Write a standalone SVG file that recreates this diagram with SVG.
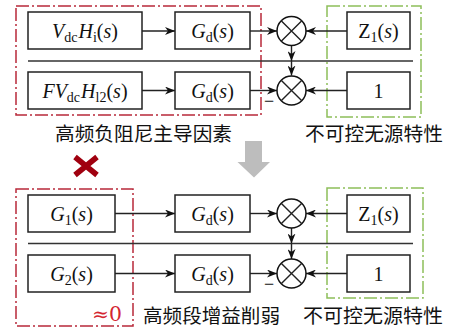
<svg xmlns="http://www.w3.org/2000/svg" width="449" height="331" viewBox="0 0 449 331">
<style>
.box{fill:#fff;stroke:#222;stroke-width:1.5}
.ln{stroke:#222;stroke-width:1.4;fill:none}
.hl{stroke:#333;stroke-width:1.6}
.sj{fill:#fff;stroke:#111;stroke-width:1.5}
.m{font-family:"Liberation Serif",serif;font-size:20px;fill:#111;text-anchor:middle}
.i{font-style:italic}
.sub{font-size:14px}
.cn{font-family:"Noto Sans CJK SC",sans-serif;font-size:19.5px;fill:#111}
.mi{font-family:"Liberation Serif",serif;font-size:18px;fill:#111;text-anchor:middle}
.rb{fill:none;stroke:#b8283a;stroke-width:1.5;stroke-dasharray:13 3 2 3}
.gb{fill:none;stroke:#8dbf5a;stroke-width:1.5;stroke-dasharray:13 3 2 3}
</style>
<defs>
<marker id="ah" viewBox="0 0 10 8" refX="10" refY="4" markerWidth="10" markerHeight="8" markerUnits="userSpaceOnUse" orient="auto">
<path d="M0,0 L10,4 L0,8 L3,4 z" fill="#111"/>
</marker>
</defs>

<!-- frames -->
<rect class="rb" x="16" y="6" width="245" height="109"/>
<rect class="gb" x="327" y="6" width="94" height="111"/>
<rect class="rb" x="16" y="189" width="117" height="137"/>
<rect class="gb" x="327" y="188" width="96" height="110"/>

<!-- connectors -->
<g id="connectors">
<line class="hl" x1="28" y1="61" x2="413" y2="61"/>
<line class="ln" x1="142" y1="31" x2="175" y2="31" marker-end="url(#ah)"/>
<line class="ln" x1="250" y1="31" x2="277" y2="31" marker-end="url(#ah)"/>
<line class="ln" x1="347" y1="31" x2="306" y2="31" marker-end="url(#ah)"/>
<line class="ln" x1="291.5" y1="45" x2="291.5" y2="61" marker-end="url(#ah)"/>
<line class="ln" x1="291.5" y1="61" x2="291.5" y2="75.5" marker-end="url(#ah)"/>
<line class="ln" x1="142" y1="90.5" x2="175" y2="90.5" marker-end="url(#ah)"/>
<line class="ln" x1="250" y1="90.5" x2="277" y2="90.5" marker-end="url(#ah)"/>
<line class="ln" x1="347" y1="90.5" x2="306" y2="90.5" marker-end="url(#ah)"/>

<line class="hl" x1="28" y1="243.5" x2="413" y2="243.5"/>
<line class="ln" x1="115" y1="213.5" x2="175" y2="213.5" marker-end="url(#ah)"/>
<line class="ln" x1="250" y1="213.5" x2="277" y2="213.5" marker-end="url(#ah)"/>
<line class="ln" x1="347" y1="213.5" x2="306" y2="213.5" marker-end="url(#ah)"/>
<line class="ln" x1="291.5" y1="228" x2="291.5" y2="243.5" marker-end="url(#ah)"/>
<line class="ln" x1="291.5" y1="243.5" x2="291.5" y2="259" marker-end="url(#ah)"/>
<line class="ln" x1="115" y1="273.5" x2="175" y2="273.5" marker-end="url(#ah)"/>
<line class="ln" x1="250" y1="273.5" x2="277" y2="273.5" marker-end="url(#ah)"/>
<line class="ln" x1="347" y1="273.5" x2="306" y2="273.5" marker-end="url(#ah)"/>
</g>

<!-- top section -->
<g id="n_vdchi"><rect class="box" x="28" y="12" width="114" height="37"/>
<text class="m" x="85" y="38"><tspan class="i">V</tspan><tspan class="sub" dy="4">dc</tspan><tspan class="i" dy="-4" dx="1">H</tspan><tspan class="sub" dy="4">i</tspan><tspan dy="-4">(</tspan><tspan class="i">s</tspan>)</text></g>
<g id="n_gd1"><rect class="box" x="175" y="12" width="75" height="37"/>
<text class="m" x="212.5" y="38"><tspan class="i">G</tspan><tspan class="sub" dy="4">d</tspan><tspan dy="-4">(</tspan><tspan class="i">s</tspan>)</text></g>
<g id="n_sum1"><circle class="sj" cx="291.5" cy="31" r="14.5"/><path class="ln" d="M281.2,20.7 L301.8,41.3 M301.8,20.7 L281.2,41.3"/></g>
<g id="n_z1a"><rect class="box" x="347" y="12" width="63" height="37"/>
<text class="m" x="378.5" y="38">Z<tspan class="sub" dy="4">1</tspan><tspan dy="-4">(</tspan><tspan class="i">s</tspan>)</text></g>

<g id="n_fvdch"><rect class="box" x="28" y="72" width="114" height="37"/>
<text class="m" x="85" y="97.5"><tspan class="i">FV</tspan><tspan class="sub" dy="4">dc</tspan><tspan class="i" dy="-4" dx="1">H</tspan><tspan class="sub" dy="4">l2</tspan><tspan dy="-4">(</tspan><tspan class="i">s</tspan>)</text></g>
<g id="n_gd2"><rect class="box" x="175" y="72" width="75" height="37"/>
<text class="m" x="212.5" y="97.5"><tspan class="i">G</tspan><tspan class="sub" dy="4">d</tspan><tspan dy="-4">(</tspan><tspan class="i">s</tspan>)</text></g>
<g id="n_sum2"><circle class="sj" cx="291.5" cy="90.5" r="14.5"/><path class="ln" d="M281.2,80.2 L301.8,100.8 M301.8,80.2 L281.2,100.8"/>
<text class="mi" x="269" y="106.5">−</text></g>
<g id="n_one1"><rect class="box" x="347" y="72" width="63" height="37"/>
<text class="m" x="378.5" y="97.5">1</text></g>

<text class="cn" x="55" y="140.5" textLength="177" lengthAdjust="spacingAndGlyphs">高频负阻尼主导因素</text>
<text class="cn" x="305" y="140.5" textLength="138" lengthAdjust="spacingAndGlyphs">不可控无源特性</text>

<!-- transition marks -->
<path d="M75,157 L97,175 M97,157 L75,175" stroke="#a0000f" stroke-width="5.5" fill="none"/>
<path d="M245,141 L262,141 L262,162 L270,162 L254,177.5 L237.5,162 L245,162 Z" fill="#bdbdbd"/>

<!-- bottom section -->
<g id="n_g1"><rect class="box" x="28" y="195" width="87" height="37"/>
<text class="m" x="71.5" y="220.5"><tspan class="i">G</tspan><tspan class="sub" dy="4">1</tspan><tspan dy="-4">(</tspan><tspan class="i">s</tspan>)</text></g>
<g id="n_gd3"><rect class="box" x="175" y="195" width="75" height="37"/>
<text class="m" x="212.5" y="220.5"><tspan class="i">G</tspan><tspan class="sub" dy="4">d</tspan><tspan dy="-4">(</tspan><tspan class="i">s</tspan>)</text></g>
<g id="n_sum3"><circle class="sj" cx="291.5" cy="213.5" r="14.5"/><path class="ln" d="M281.2,203.2 L301.8,223.8 M301.8,203.2 L281.2,223.8"/></g>
<g id="n_z1b"><rect class="box" x="347" y="195" width="63" height="37"/>
<text class="m" x="378.5" y="220.5">Z<tspan class="sub" dy="4">1</tspan><tspan dy="-4">(</tspan><tspan class="i">s</tspan>)</text></g>

<g id="n_g2"><rect class="box" x="28" y="255" width="87" height="37"/>
<text class="m" x="71.5" y="280.5"><tspan class="i">G</tspan><tspan class="sub" dy="4">2</tspan><tspan dy="-4">(</tspan><tspan class="i">s</tspan>)</text></g>
<g id="n_gd4"><rect class="box" x="175" y="255" width="75" height="37"/>
<text class="m" x="212.5" y="280.5"><tspan class="i">G</tspan><tspan class="sub" dy="4">d</tspan><tspan dy="-4">(</tspan><tspan class="i">s</tspan>)</text></g>
<g id="n_sum4"><circle class="sj" cx="291.5" cy="273.5" r="14.5"/><path class="ln" d="M281.2,263.2 L301.8,283.8 M301.8,263.2 L281.2,283.8"/>
<text class="mi" x="269" y="289.5">−</text></g>
<g id="n_one2"><rect class="box" x="347" y="255" width="63" height="37"/>
<text class="m" x="378.5" y="280.5">1</text></g>

<text x="107" y="321" textLength="30" lengthAdjust="spacingAndGlyphs" style="font-family:'DejaVu Serif','Liberation Serif',serif;font-size:20px;fill:#d42530;text-anchor:middle">≈0</text>
<text class="cn" x="143" y="323" textLength="137" lengthAdjust="spacingAndGlyphs">高频段增益削弱</text>
<text class="cn" x="303" y="323" textLength="140" lengthAdjust="spacingAndGlyphs">不可控无源特性</text>
</svg>
